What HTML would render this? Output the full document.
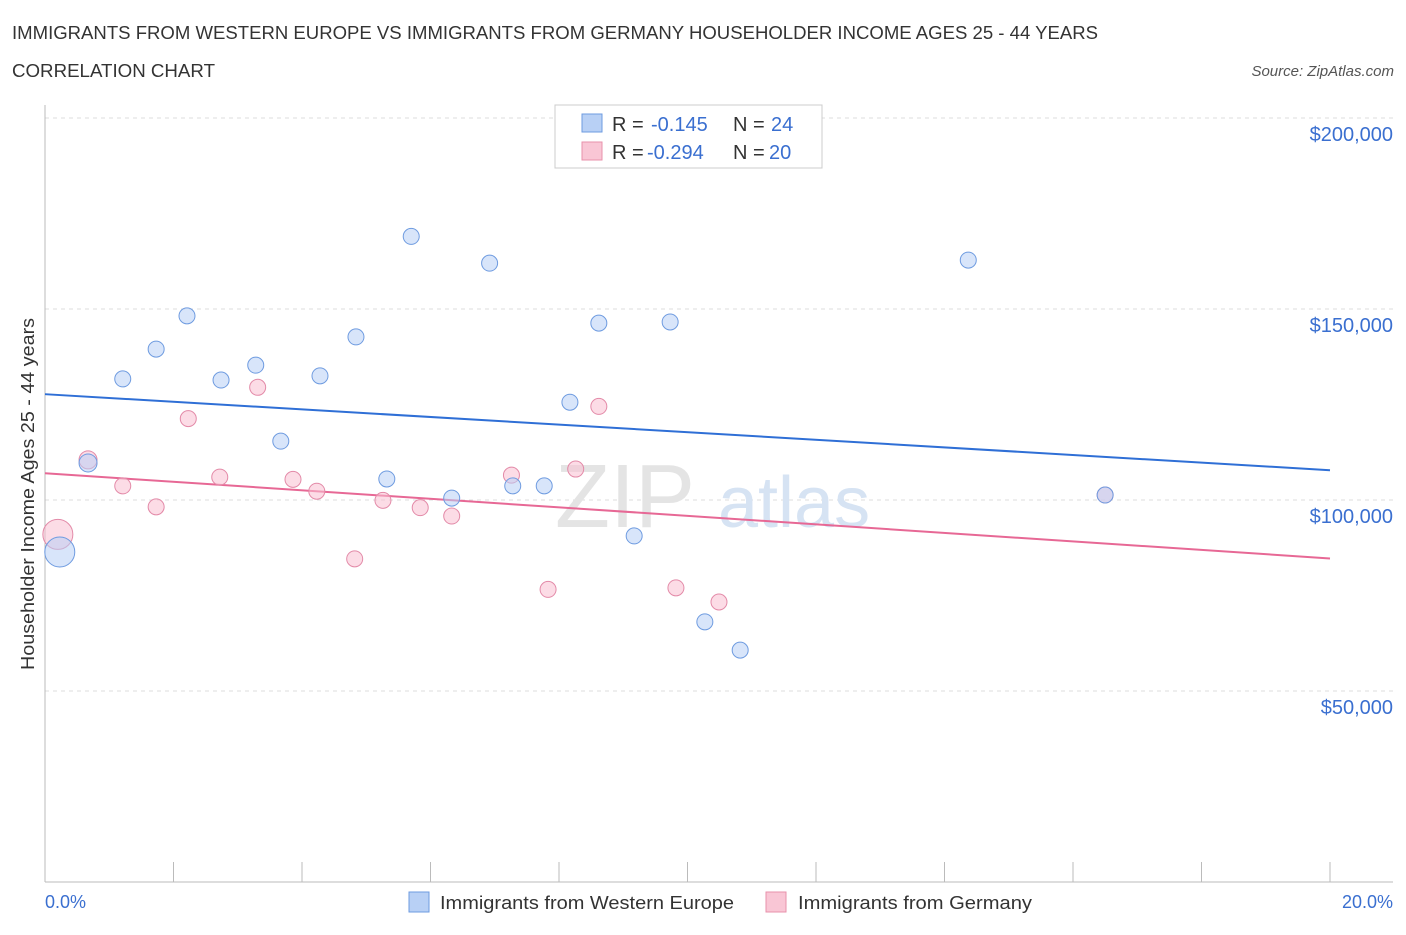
<!DOCTYPE html>
<html><head><meta charset="utf-8">
<style>
body{margin:0;background:#fff;font-family:"Liberation Sans",sans-serif;}
svg text{font-family:"Liberation Sans",sans-serif;}
</style></head>
<body>
<svg id="chart" width="1406" height="930">
<text x="12" y="39" font-size="18" fill="#333" textLength="1086" lengthAdjust="spacingAndGlyphs">IMMIGRANTS FROM WESTERN EUROPE VS IMMIGRANTS FROM GERMANY HOUSEHOLDER INCOME AGES 25 - 44 YEARS</text>
<text x="12" y="77" font-size="18" fill="#333" textLength="203" lengthAdjust="spacingAndGlyphs">CORRELATION CHART</text>
<text x="1394" y="76" font-size="15" fill="#555" font-style="italic" text-anchor="end">Source: ZipAtlas.com</text>
<g id="grid"></g>
<g id="axes"></g>
<text x="555" y="527" font-size="90" fill="#e4e4e4" font-family="Liberation Serif">ZIP</text>
<text x="718" y="527" font-size="72" fill="#d6e3f3">atlas</text>
<g id="lines"></g>
<g id="points"></g>
<text transform="translate(34,494) rotate(-90)" font-size="18" fill="#333" text-anchor="middle" textLength="352" lengthAdjust="spacingAndGlyphs">Householder Income Ages 25 - 44 years</text>
<text x="45" y="908" font-size="18" fill="#3a6fd0">0.0%</text>
<text x="1393" y="908" font-size="18" fill="#3a6fd0" text-anchor="end">20.0%</text>
<g>
<rect x="555" y="105" width="267" height="63" fill="#fff" stroke="#ccc"/>
<rect x="582" y="114" width="20" height="18" fill="#b8d0f5" stroke="#6e9be0"/>
<rect x="582" y="142" width="20" height="18" fill="#f9c6d5" stroke="#e891ab"/>
<text x="612" y="131" font-size="20" fill="#333">R = <tspan x="651" fill="#3a6fd0">-0.145</tspan><tspan x="733">N = </tspan><tspan x="771" fill="#3a6fd0">24</tspan></text>
<text x="612" y="159" font-size="20" fill="#333">R = <tspan x="647" fill="#3a6fd0">-0.294</tspan><tspan x="733">N = </tspan><tspan x="769" fill="#3a6fd0">20</tspan></text>
</g>
<g>
<rect x="409" y="892" width="20" height="20" fill="#b8d0f5" stroke="#6e9be0"/>
<text x="440" y="909" font-size="18" fill="#333" textLength="294" lengthAdjust="spacingAndGlyphs">Immigrants from Western Europe</text>
<rect x="766" y="892" width="20" height="20" fill="#f9c6d5" stroke="#e891ab"/>
<text x="798" y="909" font-size="18" fill="#333" textLength="234" lengthAdjust="spacingAndGlyphs">Immigrants from Germany</text>
</g>
</svg>
<script>
const yTicks=[50000,100000,150000,200000];
const yTickLabels=["$50,000","$100,000","$150,000","$200,000"];
const blueX=[0.67,1.21,1.73,2.21,2.74,3.28,3.67,4.28,4.84,5.32,5.70,6.33,6.92,7.28,7.77,8.17,8.62,9.17,9.73,10.27,10.82,14.37,16.50,0.23];
const blueY=[109700,131700,139500,148200,131400,135300,115400,132500,142700,105500,169000,100500,162000,103700,103700,125600,146300,90600,146600,68100,60700,162800,101300,86400];
const blueR=[9,8,8,8,8,8,8,8,8,8,8,8,8,8,8,8,8,8,8,8,8,8,8,15];
const pinkX=[0.20,0.67,1.21,1.73,2.23,2.72,3.31,3.86,4.23,4.82,5.26,5.84,6.33,7.26,7.83,8.26,8.62,9.82,10.49,16.50];
const pinkY=[91000,110500,103700,98200,121300,106000,129500,105400,102300,84600,99900,98000,95800,106500,76600,108100,124500,77000,73300,101300];
const pinkR=[15,9,8,8,8,8,8,8,8,8,8,8,8,8,8,8,8,8,8,8];
const blueTrend=[[0,127700],[20,107800]];
const pinkTrend=[[0,107000],[20,84700]];
const X0=45,X1=1330,Y0=882,YPX=191/50000;
const sx=v=>X0+(X1-X0)*v/20, sy=v=>Y0-v*YPX;
const NS="http://www.w3.org/2000/svg";
function mk(t,a,p){const e=document.createElementNS(NS,t);for(const k in a)e.setAttribute(k,a[k]);p.appendChild(e);return e;}
const grid=document.getElementById('grid');
yTicks.forEach((v,i)=>{
 const l=mk('line',{x1:45,x2:1393,y1:sy(v),y2:sy(v),stroke:'#ddd','stroke-dasharray':'4,4'},grid);
 
 
 const t=mk('text',{x:1393,y:sy(v)+23,'font-size':20,fill:'#3a6fd0','text-anchor':'end'},grid);
 t.textContent=yTickLabels[i];
 
 
});
const ax=document.getElementById('axes');
mk('line',{x1:45,x2:45,y1:105,y2:882,stroke:'#bbb'},ax);
mk('line',{x1:45,x2:1393,y1:882,y2:882,stroke:'#bbb'},ax);
for(let i=0;i<=10;i++){const x=sx(i*2);const t=mk('line',{x1:x,x2:x,y1:862,y2:882,stroke:'#bbb'},ax);
 
 }
const lg=document.getElementById('lines');
[[blueTrend,'#2f6fd6','trend-line-western-europe'],[pinkTrend,'#e76895','trend-line-germany']].forEach(([tr,c,n])=>{
 const l=mk('line',{x1:sx(tr[0][0]),y1:sy(tr[0][1]),x2:sx(tr[1][0]),y2:sy(tr[1][1]),stroke:c,'stroke-width':2},lg);
 
 
});
const pg=document.getElementById('points');
function pts(X,Y,R,f,s,n){X.forEach((x,i)=>{const c=mk('circle',{cx:sx(x),cy:sy(Y[i]),r:R[i],fill:f,'fill-opacity':0.55,stroke:s,'stroke-width':1},pg);
 
 });}
pts(pinkX,pinkY,pinkR,'#f9c0d2','#e38aa8','point-germany');
pts(blueX,blueY,blueR,'#b8d0f5','#6e9be0','point-western-europe');
</script>
</body></html>
